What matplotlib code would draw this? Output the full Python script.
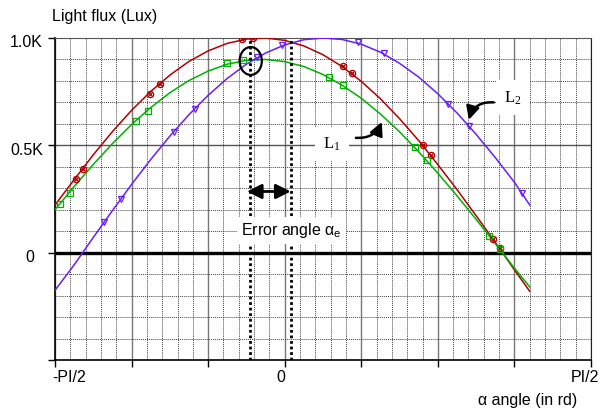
import matplotlib
matplotlib.use("Agg")
import matplotlib.pyplot as plt
import numpy as np
from matplotlib.patches import Ellipse

plt.rcParams['font.family'] = ['Liberation Sans', 'DejaVu Sans']
plt.rcParams['mathtext.fontset'] = 'custom'
plt.rcParams['mathtext.rm'] = 'Liberation Sans'
plt.rcParams['mathtext.it'] = 'Liberation Sans'

# angle axis in grid divisions: -3 is -PI/2, 4 is PI/2
alpha = [-3.0, -2.75, -2.5, -2.25, -2.0, -1.75, -1.5, -1.25, -1.0, -0.75, -0.5, -0.25,
         0.0, 0.25, 0.5, 0.75, 1.0, 1.25, 1.5, 1.75, 2.0, 2.25, 2.5, 2.75, 3.0, 3.2]

# light flux (Lux)
flux_red = [222, 340, 456, 564, 663, 751, 827, 891, 940, 975, 995, 1000,
            989, 963, 922, 867, 798, 717, 624, 522, 410, 294, 172, 48, -80, -180]
flux_green = [200, 308, 411, 508, 597, 676, 745, 802, 846, 878, 896, 900,
              890, 867, 830, 780, 719, 646, 563, 470, 370, 265, 155, 42, -72, -160]
flux_blue = [-175, -57, 71, 196, 318, 434, 543, 643, 733, 812, 878, 930,
             968, 992, 1000, 993, 971, 934, 882, 818, 740, 651, 551, 443, 328, 222]

# measured points
red_mx = [-2.73, -2.63, -1.765, -1.63, -0.553, -0.414, 0.758, 0.876, 1.808, 1.908, 2.723, 2.81]
red_my = [345, 389, 738, 785, 994, 999, 868, 837, 500, 454, 62, 22]
green_mx = [-2.937, -2.81, -1.948, -1.79, -0.754, -0.545, 0.579, 0.758, 1.695, 1.852, 2.67, 2.806]
green_my = [228, 280, 614, 662, 882, 898, 819, 779, 492, 431, 79, 15]
blue_mx = [-2.362, -2.135, -1.447, -1.176, -0.357, -0.03, 0.958, 1.294, 2.131, 2.401, 3.094]
blue_my = [142, 250, 564, 668, 910, 967, 980, 928, 694, 592, 280]

# sensor axis and true maximum
err_x = [-0.454, 0.078]

c_red = '#b00000'
c_green = '#00b000'
c_blue = '#6a1cff'
serif = ['Liberation Serif', 'DejaVu Serif']

fig = plt.figure(figsize=(6.03, 4.12), dpi=100)
ax = fig.add_axes([55 / 603, 52 / 412, 536 / 603, 322 / 412])
ax.set_xlim(-3, 4)
ax.set_ylim(-500, 1000)

ax.set_xticks(range(-3, 5))
ax.set_xticks(np.arange(-3, 4.01, 0.2), minor=True)
ax.set_yticks([-500, 0, 500, 1000])
ax.set_yticks(np.arange(-500, 1001, 100), minor=True)
ax.tick_params(which='minor', length=0)
ax.tick_params(which='major', length=5, width=1, color='black',
               labelleft=False, labelbottom=False)

ax.grid(which='minor', color='#444444', ls=(0, (1, 1)), lw=0.7, zorder=0)
ax.grid(which='major', axis='x', color='#777777', ls='-', lw=1.0, zorder=0)
ax.axhline(500, color='#555555', lw=1.0, zorder=1)
ax.axhline(0, color='black', lw=2.4, zorder=1)
ax.set_axisbelow(True)

for side in ['left', 'bottom']:
    ax.spines[side].set_linewidth(1.2)
ax.spines['top'].set_color('#555555')
ax.spines['right'].set_color('#222222')

ax.plot(alpha, flux_red, color=c_red, lw=1.1, zorder=3)
ax.plot(alpha, flux_green, color=c_green, lw=1.1, zorder=3)
ax.plot(alpha, flux_blue, color=c_blue, lw=1.1, zorder=3)

ax.plot(red_mx, red_my, ls='none', marker='o', ms=4.5, mfc='none', mec=c_red, mew=0.9, zorder=4)
ax.plot(red_mx, red_my, ls='none', marker='x', ms=3, mec=c_red, mew=0.9, zorder=4)
ax.plot(green_mx, green_my, ls='none', marker='s', ms=4.5, mfc='none', mec=c_green, mew=0.9, zorder=4)
ax.plot(blue_mx, blue_my, ls='none', marker='v', ms=4.5, mfc='none', mec=c_blue, mew=0.9, zorder=4)

for xv in err_x:
    ax.axvline(xv, color='black', lw=2.0, ls=(0, (1, 1)), zorder=5)

ax.add_patch(Ellipse((-0.444, 893), 0.29, 130, fill=False, ec='black', lw=1.6, zorder=6))

ax.annotate('', xy=(err_x[1], 285), xytext=(err_x[0] - 0.04, 285),
            arrowprops=dict(arrowstyle='<|-|>', color='black', lw=2, mutation_scale=22,
                            shrinkA=0, shrinkB=0),
            zorder=6)
ax.text(0.09, 102, r'Error angle $\alpha_\mathregular{e}$', fontsize=11.5, ha='center', va='center',
        bbox=dict(fc='white', ec='none', pad=3), zorder=6)

# curve labels with their arrows
for lx, ly, num in [(2.98, 722, '2'), (0.62, 505, '1')]:
    ax.text(lx, ly, r'L$_\mathregular{%s}$' % num, fontsize=12, family=serif,
            ha='center', va='center', bbox=dict(fc='white', ec='none', pad=6), zorder=6)

ax.annotate('', xy=(2.405, 619), xytext=(2.73, 700),
            arrowprops=dict(arrowstyle='-|>', color='black', lw=1.8, mutation_scale=20,
                            connectionstyle='arc3,rad=0.4', shrinkA=0, shrinkB=0),
            zorder=6)
ax.annotate('', xy=(1.268, 609), xytext=(0.93, 535),
            arrowprops=dict(arrowstyle='-|>', color='black', lw=1.8, mutation_scale=20,
                            connectionstyle='arc3,rad=0.35', shrinkA=0, shrinkB=0),
            zorder=6)

# tick labels
for yv, lab, xl in [(1000, '1.0K', -3.37), (500, '0.5K', -3.37), (0, '0', -3.33)]:
    ax.text(xl, yv - 22, lab, fontsize=11.5, ha='center', va='center', clip_on=False)
for xv, lab in [(-2.81, '-PI/2'), (-0.05, '0'), (3.92, 'PI/2')]:
    ax.text(xv, -545, lab, fontsize=11.5, ha='center', va='top', clip_on=False)

fig.text(105 / 603, 1 - 16 / 412, 'Light flux (Lux)', fontsize=11.5, ha='center', va='center')
fig.text(528 / 603, 1 - 400 / 412, 'α angle (in rd)', fontsize=11.5, ha='center', va='center')

fig.savefig('out.png', dpi=100)
